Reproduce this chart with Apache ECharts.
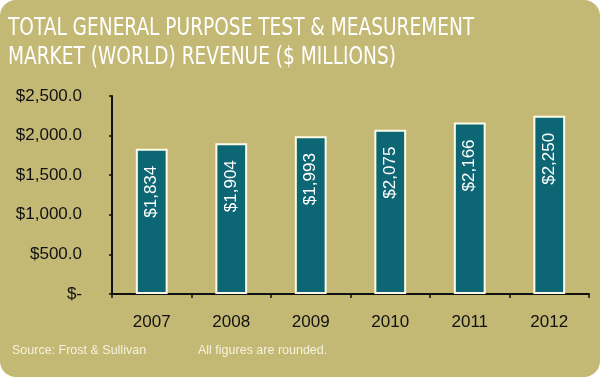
<!DOCTYPE html>
<html><head><meta charset="utf-8">
<script src="https://cdn.jsdelivr.net/npm/echarts@6/dist/echarts.min.js"></script>
<style>html,body{margin:0;padding:0;background:#fff}#c{width:600px;height:379px}</style>
</head><body><div id="c"></div>
<script>
const titleLines = ["TOTAL GENERAL PURPOSE TEST & MEASUREMENT", "MARKET (WORLD) REVENUE ($ MILLIONS)"];
const categories = ["2007", "2008", "2009", "2010", "2011", "2012"];
const revenue = [1834, 1904, 1993, 2075, 2166, 2250];
const yTicks = [0, 500, 1000, 1500, 2000, 2500];
const sourceNote = "Source: Frost & Sullivan";
const roundNote = "All figures are rounded.";

const chart = echarts.init(document.getElementById('c'), null, {renderer: 'canvas'});
const fmtAxis = v => v === 0 ? '$-' : '$' + v.toLocaleString('en-US', {minimumFractionDigits: 1, maximumFractionDigits: 1});
const fmtBar = v => '$' + v.toLocaleString('en-US');
chart.setOption({
  backgroundColor: '#ffffff',
  animation: false,
  graphic: [
    {type: 'rect', z: -10, shape: {x: 0, y: 0, width: 600, height: 377, r: 16}, style: {fill: '#c3b874'}},
    {type: 'text', x: 8, y: 14, scaleX: 0.86, style: {text: titleLines.join('\n'), fill: '#ffffff', lineHeight: 29,
      font: '24px "DejaVu Sans Condensed", "Liberation Sans Narrow", sans-serif'}},
    {type: 'text', left: 12, top: 344, style: {text: sourceNote, fill: '#f6f2dc', font: '12.5px "Liberation Sans", sans-serif'}},
    {type: 'text', left: 198, top: 344, style: {text: roundNote, fill: '#f6f2dc', font: '12.5px "Liberation Sans", sans-serif'}}
  ],
  grid: {left: 112, right: 11, top: 96, bottom: 85, containLabel: false},
  xAxis: {
    type: 'category', data: categories,
    axisLine: {lineStyle: {color: '#111', width: 2}},
    axisTick: {show: true, length: 4, lineStyle: {color: '#111', width: 1.5}},
    axisLabel: {color: '#111', fontSize: 17, margin: 20, fontFamily: '"Liberation Sans", sans-serif'}
  },
  yAxis: {
    type: 'value', min: 0, max: 2500, interval: 500,
    axisLine: {show: true, lineStyle: {color: '#111', width: 2}},
    axisTick: {show: true, length: 3, lineStyle: {color: '#111', width: 1.5}},
    splitLine: {show: false},
    axisLabel: {color: '#111', fontSize: 17, margin: 30, fontFamily: '"Liberation Sans", sans-serif',
      formatter: v => yTicks.includes(v) ? fmtAxis(v) : ''}
  },
  series: [{
    type: 'bar', data: revenue, barWidth: '40%',
    itemStyle: {color: '#0d6673', borderColor: '#fdfbe8', borderWidth: 2},
    label: {show: true, position: 'insideTop', distance: 17, rotate: 90, align: 'right', verticalAlign: 'middle',
      color: '#ffffff', fontSize: 17, fontFamily: '"Liberation Sans", sans-serif', formatter: p => fmtBar(p.value)}
  }]
});
</script></body></html>
